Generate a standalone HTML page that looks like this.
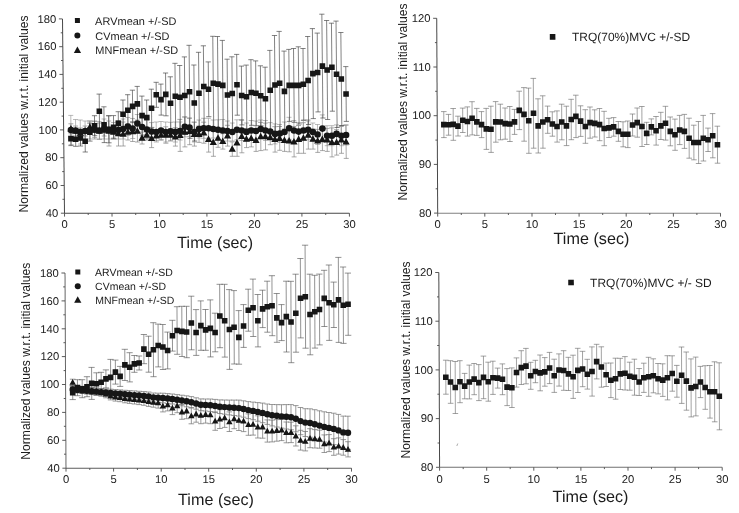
<!DOCTYPE html>
<html lang="en"><head><meta charset="utf-8"><title>Figure</title>
<style>html,body{margin:0;padding:0;background:#fff}svg{display:block}</style>
</head><body>
<svg width="739" height="513" viewBox="0 0 739 513" font-family='"Liberation Sans", sans-serif'>
<defs><filter id="soft" x="0" y="0" width="100%" height="100%" filterUnits="userSpaceOnUse" primitiveUnits="userSpaceOnUse"><feGaussianBlur stdDeviation="0.22"/></filter></defs>
<rect width="739" height="513" fill="#fff"/>
<g filter="url(#soft)">
<g transform="matrix(1 0 0.0103 1 -1.195 0)">
<path d="M70.8 123.8V133.8M68.3 123.8h5.0M68.3 133.8h5.0M75.5 126.0V136.0M73.0 126.0h5.0M73.0 136.0h5.0M80.2 128.0V138.0M77.7 128.0h5.0M77.7 138.0h5.0M85.0 126.0V136.0M82.5 126.0h5.0M82.5 136.0h5.0M89.8 121.0V133.0M87.3 121.0h5.0M87.3 133.0h5.0M94.5 121.0V139.0M92.0 121.0h5.0M92.0 139.0h5.0M99.2 123.0V139.0M96.7 123.0h5.0M96.7 139.0h5.0M104.0 124.0V136.0M101.5 124.0h5.0M101.5 136.0h5.0M108.7 116.0V146.0M106.2 116.0h5.0M106.2 146.0h5.0M113.4 126.0V138.0M110.9 126.0h5.0M110.9 138.0h5.0M118.2 121.0V146.0M115.7 121.0h5.0M115.7 146.0h5.0M122.9 122.0V146.0M120.4 122.0h5.0M120.4 146.0h5.0M127.7 124.0V140.0M125.2 124.0h5.0M125.2 140.0h5.0M132.4 121.5V141.5M129.9 121.5h5.0M129.9 141.5h5.0M137.2 120.0V142.0M134.7 120.0h5.0M134.7 142.0h5.0M141.8 132.0V144.0M139.3 132.0h5.0M139.3 144.0h5.0M146.6 130.0V140.0M144.1 130.0h5.0M144.1 140.0h5.0M151.3 129.2V147.6M148.8 129.2h5.0M148.8 147.6h5.0M156.1 130.7V140.7M153.6 130.7h5.0M153.6 140.7h5.0M160.9 129.8V140.2M158.4 129.8h5.0M158.4 140.2h5.0M165.6 126.8V143.2M163.1 126.8h5.0M163.1 143.2h5.0M170.3 129.0V141.0M167.8 129.0h5.0M167.8 141.0h5.0M175.1 127.7V146.1M172.6 127.7h5.0M172.6 146.1h5.0M179.8 119.4V151.4M177.3 119.4h5.0M177.3 151.4h5.0M184.6 117.1V146.9M182.1 117.1h5.0M182.1 146.9h5.0M189.4 117.9V144.7M186.9 117.9h5.0M186.9 144.7h5.0M194.1 122.3V146.1M191.6 122.3h5.0M191.6 146.1h5.0M198.8 126.0V142.4M196.3 126.0h5.0M196.3 142.4h5.0M203.6 122.2V143.2M201.1 122.2h5.0M201.1 143.2h5.0M208.3 126.7V152.1M205.8 126.7h5.0M205.8 152.1h5.0M213.0 128.5V156.3M210.5 128.5h5.0M210.5 156.3h5.0M217.8 128.7V147.3M215.3 128.7h5.0M215.3 147.3h5.0M222.5 133.7V149.1M220.0 133.7h5.0M220.0 149.1h5.0M227.3 125.3V146.1M224.8 125.3h5.0M224.8 146.1h5.0M231.9 141.9V156.3M229.4 141.9h5.0M229.4 156.3h5.0M236.7 129.5V156.3M234.2 129.5h5.0M234.2 156.3h5.0M241.5 119.6V152.8M239.0 119.6h5.0M239.0 152.8h5.0M246.2 130.4V147.6M243.7 130.4h5.0M243.7 147.6h5.0M251.0 129.9V146.9M248.5 129.9h5.0M248.5 146.9h5.0M255.7 129.0V151.4M253.2 129.0h5.0M253.2 151.4h5.0M260.5 122.4V150.6M258.0 122.4h5.0M258.0 150.6h5.0M265.2 123.1V149.9M262.7 123.1h5.0M262.7 149.9h5.0M270.0 129.7V144.7M267.5 129.7h5.0M267.5 144.7h5.0M274.7 126.7V152.1M272.2 126.7h5.0M272.2 152.1h5.0M279.4 126.5V150.3M276.9 126.5h5.0M276.9 150.3h5.0M284.2 129.0V151.4M281.7 129.0h5.0M281.7 151.4h5.0M288.9 130.0V151.8M286.4 130.0h5.0M286.4 151.8h5.0M293.7 126.5V156.9M291.2 126.5h5.0M291.2 156.9h5.0M298.4 125.5V153.3M295.9 125.5h5.0M295.9 153.3h5.0M303.2 122.7V153.3M300.7 122.7h5.0M300.7 153.3h5.0M308.0 120.9V149.1M305.5 120.9h5.0M305.5 149.1h5.0M312.7 128.9V149.1M310.2 128.9h5.0M310.2 149.1h5.0M317.4 129.4V152.4M314.9 129.4h5.0M314.9 152.4h5.0M322.1 128.2V150.6M319.6 128.2h5.0M319.6 150.6h5.0M326.9 128.4V151.4M324.4 128.4h5.0M324.4 151.4h5.0M331.6 127.9V156.9M329.1 127.9h5.0M329.1 156.9h5.0M336.3 129.7V155.1M333.8 129.7h5.0M333.8 155.1h5.0M341.1 126.5V153.3M338.6 126.5h5.0M338.6 153.3h5.0M345.8 125.0V158.4M343.3 125.0h5.0M343.3 158.4h5.0" stroke="#7c7c7c" stroke-width="0.65" fill="none"/>
<path d="M70.8 115.4V144.6M68.3 115.4h5.0M68.3 144.6h5.0M75.5 119.5V141.5M73.0 119.5h5.0M73.0 141.5h5.0M80.2 120.0V144.0M77.7 120.0h5.0M77.7 144.0h5.0M85.0 121.0V141.0M82.5 121.0h5.0M82.5 141.0h5.0M89.7 121.0V139.0M87.2 121.0h5.0M87.2 139.0h5.0M94.5 121.5V137.5M92.0 121.5h5.0M92.0 137.5h5.0M99.2 121.5V139.5M96.7 121.5h5.0M96.7 139.5h5.0M104.0 119.0V139.0M101.5 119.0h5.0M101.5 139.0h5.0M108.7 121.0V139.0M106.2 121.0h5.0M106.2 139.0h5.0M113.5 122.5V138.5M111.0 122.5h5.0M111.0 138.5h5.0M118.2 121.0V139.0M115.7 121.0h5.0M115.7 139.0h5.0M123.0 119.0V139.0M120.5 119.0h5.0M120.5 139.0h5.0M127.7 117.5V135.5M125.2 117.5h5.0M125.2 135.5h5.0M132.5 118.5V138.5M130.0 118.5h5.0M130.0 138.5h5.0M137.3 114.5V132.5M134.8 114.5h5.0M134.8 132.5h5.0M142.0 117.0V137.0M139.5 117.0h5.0M139.5 137.0h5.0M146.7 120.5V138.5M144.2 120.5h5.0M144.2 138.5h5.0M151.4 122.6V140.6M148.9 122.6h5.0M148.9 140.6h5.0M156.1 122.0V142.0M153.6 122.0h5.0M153.6 142.0h5.0M160.9 121.5V139.5M158.4 121.5h5.0M158.4 139.5h5.0M165.6 122.0V142.0M163.1 122.0h5.0M163.1 142.0h5.0M170.4 122.3V140.3M167.9 122.3h5.0M167.9 140.3h5.0M175.1 122.0V142.0M172.6 122.0h5.0M172.6 142.0h5.0M179.9 122.0V140.0M177.4 122.0h5.0M177.4 140.0h5.0M184.7 116.8V136.8M182.2 116.8h5.0M182.2 136.8h5.0M189.4 118.5V136.5M186.9 118.5h5.0M186.9 136.5h5.0M194.1 122.0V142.0M191.6 122.0h5.0M191.6 142.0h5.0M198.9 120.0V138.0M196.4 120.0h5.0M196.4 138.0h5.0M203.6 118.3V138.3M201.1 118.3h5.0M201.1 138.3h5.0M208.4 118.3V138.3M205.9 118.3h5.0M205.9 138.3h5.0M213.1 120.0V138.0M210.6 120.0h5.0M210.6 138.0h5.0M217.9 119.8V139.8M215.4 119.8h5.0M215.4 139.8h5.0M222.6 119.5V141.5M220.1 119.5h5.0M220.1 141.5h5.0M227.3 121.0V141.0M224.8 121.0h5.0M224.8 141.0h5.0M232.1 123.0V141.0M229.6 123.0h5.0M229.6 141.0h5.0M236.8 119.8V139.8M234.3 119.8h5.0M234.3 139.8h5.0M241.6 120.5V140.5M239.1 120.5h5.0M239.1 140.5h5.0M246.3 123.0V141.0M243.8 123.0h5.0M243.8 141.0h5.0M251.1 120.5V140.5M248.6 120.5h5.0M248.6 140.5h5.0M255.8 121.0V141.0M253.3 121.0h5.0M253.3 141.0h5.0M260.6 120.0V138.0M258.1 120.0h5.0M258.1 138.0h5.0M265.3 120.5V140.5M262.8 120.5h5.0M262.8 140.5h5.0M270.0 122.6V140.6M267.5 122.6h5.0M267.5 140.6h5.0M274.8 123.9V143.9M272.3 123.9h5.0M272.3 143.9h5.0M279.5 124.5V142.5M277.0 124.5h5.0M277.0 142.5h5.0M284.3 122.0V142.0M281.8 122.0h5.0M281.8 142.0h5.0M289.0 117.3V139.3M286.5 117.3h5.0M286.5 139.3h5.0M293.8 120.5V140.5M291.3 120.5h5.0M291.3 140.5h5.0M298.5 122.6V140.6M296.0 122.6h5.0M296.0 140.6h5.0M303.3 120.5V140.5M300.8 120.5h5.0M300.8 140.5h5.0M308.0 119.8V139.8M305.5 119.8h5.0M305.5 139.8h5.0M312.7 123.0V141.0M310.2 123.0h5.0M310.2 141.0h5.0M317.4 124.5V144.5M314.9 124.5h5.0M314.9 144.5h5.0M322.3 114.9V142.3M319.8 114.9h5.0M319.8 142.3h5.0M326.9 125.7V145.7M324.4 125.7h5.0M324.4 145.7h5.0M331.7 125.7V145.7M329.2 125.7h5.0M329.2 145.7h5.0M336.4 124.9V142.9M333.9 124.9h5.0M333.9 142.9h5.0M341.2 125.7V145.7M338.7 125.7h5.0M338.7 145.7h5.0M345.9 125.0V145.0M343.4 125.0h5.0M343.4 145.0h5.0" stroke="#8c8c8c" stroke-width="0.6" fill="none"/>
<path d="M70.7 131.6V145.6M68.1 131.6h5.2M68.1 145.6h5.2M75.4 132.3V146.3M72.8 132.3h5.2M72.8 146.3h5.2M80.2 130.0V146.0M77.6 130.0h5.2M77.6 146.0h5.2M84.9 130.6V152.0M82.3 130.6h5.2M82.3 152.0h5.2M89.7 123.1V141.1M87.1 123.1h5.2M87.1 141.1h5.2M94.5 115.7V135.7M91.9 115.7h5.2M91.9 135.7h5.2M99.4 94.1V128.5M96.8 94.1h5.2M96.8 128.5h5.2M104.0 106.8V142.6M101.4 106.8h5.2M101.4 142.6h5.2M108.7 115.6V142.8M106.1 115.6h5.2M106.1 142.8h5.2M113.5 115.6V139.0M110.9 115.6h5.2M110.9 139.0h5.2M118.3 111.7V135.1M115.7 111.7h5.2M115.7 135.1h5.2M123.1 100.0V128.4M120.5 100.0h5.2M120.5 128.4h5.2M127.9 94.7V125.9M125.3 94.7h5.2M125.3 125.9h5.2M132.7 90.2V122.6M130.1 90.2h5.2M130.1 122.6h5.2M137.5 86.4V121.4M134.9 86.4h5.2M134.9 121.4h5.2M142.1 96.1V135.1M139.5 96.1h5.2M139.5 135.1h5.2M146.8 100.0V135.0M144.2 100.0h5.2M144.2 135.0h5.2M151.6 89.2V127.4M149.0 89.2h5.2M149.0 127.4h5.2M156.5 82.3V107.3M153.9 82.3h5.2M153.9 107.3h5.2M161.2 84.1V115.1M158.6 84.1h5.2M158.6 115.1h5.2M166.0 73.0V115.8M163.4 73.0h5.2M163.4 115.8h5.2M170.7 76.8V129.6M168.1 76.8h5.2M168.1 129.6h5.2M175.5 63.3V129.3M172.9 63.3h5.2M172.9 129.3h5.2M180.2 65.5V128.9M177.6 65.5h5.2M177.6 128.9h5.2M185.0 56.9V134.1M182.4 56.9h5.2M182.4 134.1h5.2M189.8 45.3V138.3M187.2 45.3h5.2M187.2 138.3h5.2M194.4 65.0V141.0M191.8 65.0h5.2M191.8 141.0h5.2M199.2 52.3V134.3M196.6 52.3h5.2M196.6 134.3h5.2M204.1 45.8V127.2M201.5 45.8h5.2M201.5 127.2h5.2M208.8 61.9V116.7M206.2 61.9h5.2M206.2 116.7h5.2M213.6 36.3V130.3M211.0 36.3h5.2M211.0 130.3h5.2M218.3 36.5V131.7M215.7 36.5h5.2M215.7 131.7h5.2M223.1 40.4V130.4M220.5 40.4h5.2M220.5 130.4h5.2M227.7 59.2V130.8M225.1 59.2h5.2M225.1 130.8h5.2M232.5 56.8V130.2M229.9 56.8h5.2M229.9 130.2h5.2M237.3 54.4V115.2M234.7 54.4h5.2M234.7 115.2h5.2M241.9 66.1V124.9M239.3 66.1h5.2M239.3 124.9h5.2M246.7 65.1V128.5M244.1 65.1h5.2M244.1 128.5h5.2M251.5 59.7V125.3M248.9 59.7h5.2M248.9 125.3h5.2M256.2 60.9V125.7M253.6 60.9h5.2M253.6 125.7h5.2M260.9 65.8V125.8M258.3 65.8h5.2M258.3 125.8h5.2M265.6 67.2V130.2M263.0 67.2h5.2M263.0 130.2h5.2M270.5 50.4V130.2M267.9 50.4h5.2M267.9 130.2h5.2M275.3 35.5V134.5M272.7 35.5h5.2M272.7 134.5h5.2M280.0 31.4V135.2M277.4 31.4h5.2M277.4 135.2h5.2M284.7 51.1V131.7M282.1 51.1h5.2M282.1 131.7h5.2M289.5 49.4V121.4M286.9 49.4h5.2M286.9 121.4h5.2M294.2 48.5V122.3M291.6 48.5h5.2M291.6 122.3h5.2M299.0 46.8V124.0M296.4 46.8h5.2M296.4 124.0h5.2M303.7 48.5V120.1M301.1 48.5h5.2M301.1 120.1h5.2M308.5 36.5V124.5M305.9 36.5h5.2M305.9 124.5h5.2M313.3 28.6V118.6M310.7 28.6h5.2M310.7 118.6h5.2M318.1 33.1V111.9M315.5 33.1h5.2M315.5 111.9h5.2M322.9 14.2V118.0M320.3 14.2h5.2M320.3 118.0h5.2M327.6 20.5V119.5M325.0 20.5h5.2M325.0 119.5h5.2M332.4 23.2V111.2M329.8 23.2h5.2M329.8 111.2h5.2M337.0 21.1V127.5M334.4 21.1h5.2M334.4 127.5h5.2M341.7 32.5V125.5M339.1 32.5h5.2M339.1 125.5h5.2M346.3 66.6V121.4M343.7 66.6h5.2M343.7 121.4h5.2" stroke="#404040" stroke-width="0.65" fill="none"/>
<path d="M63.5 19V213.2" stroke="#484848" stroke-width="1"/>
<path d="M63.5 213.2H348.4" stroke="#484848" stroke-width="1"/>
<text x="57.3" y="22.7" text-anchor="end" font-size="11.3" fill="#1c1c1c">180</text>
<text x="57.3" y="50.5" text-anchor="end" font-size="11.3" fill="#1c1c1c">160</text>
<text x="57.3" y="78.2" text-anchor="end" font-size="11.3" fill="#1c1c1c">140</text>
<text x="57.3" y="106.0" text-anchor="end" font-size="11.3" fill="#1c1c1c">120</text>
<text x="57.3" y="133.7" text-anchor="end" font-size="11.3" fill="#1c1c1c">100</text>
<text x="57.3" y="161.5" text-anchor="end" font-size="11.3" fill="#1c1c1c">80</text>
<text x="57.3" y="189.3" text-anchor="end" font-size="11.3" fill="#1c1c1c">60</text>
<text x="57.3" y="217.0" text-anchor="end" font-size="11.3" fill="#1c1c1c">40</text>
<text x="63.5" y="228" text-anchor="middle" font-size="11.3" fill="#1c1c1c">0</text>
<text x="111.0" y="228" text-anchor="middle" font-size="11.3" fill="#1c1c1c">5</text>
<text x="158.5" y="228" text-anchor="middle" font-size="11.3" fill="#1c1c1c">10</text>
<text x="205.9" y="228" text-anchor="middle" font-size="11.3" fill="#1c1c1c">15</text>
<text x="253.4" y="228" text-anchor="middle" font-size="11.3" fill="#1c1c1c">20</text>
<text x="300.9" y="228" text-anchor="middle" font-size="11.3" fill="#1c1c1c">25</text>
<text x="348.4" y="228" text-anchor="middle" font-size="11.3" fill="#1c1c1c">30</text>
<path d="M59.9 18.9H63.5M61.6 32.8H63.5M59.9 46.7H63.5M61.6 60.5H63.5M59.9 74.4H63.5M61.6 88.3H63.5M59.9 102.2H63.5M61.6 116.1H63.5M59.9 129.9H63.5M61.6 143.8H63.5M59.9 157.7H63.5M61.6 171.6H63.5M59.9 185.5H63.5M61.6 199.3H63.5M59.9 213.2H63.5M63.5 213.2v3.4M87.2 213.2v1.8M111.0 213.2v3.4M134.7 213.2v1.8M158.5 213.2v3.4M182.2 213.2v1.8M205.9 213.2v3.4M229.7 213.2v1.8M253.4 213.2v3.4M277.2 213.2v1.8M300.9 213.2v3.4M324.7 213.2v1.8M348.4 213.2v3.4" stroke="#484848" stroke-width="0.9" fill="none"/>
<text x="175.9" y="248" font-size="16.2" fill="#1c1c1c">Time (sec)</text>
<path d="M70.8 125.0l3.6 6.5h-7.2zM75.5 127.2l3.6 6.5h-7.2zM80.2 129.2l3.6 6.5h-7.2zM85.0 127.2l3.6 6.5h-7.2zM89.8 123.2l3.6 6.5h-7.2zM94.5 126.2l3.6 6.5h-7.2zM99.2 127.2l3.6 6.5h-7.2zM104.0 126.2l3.6 6.5h-7.2zM108.7 127.2l3.6 6.5h-7.2zM113.4 128.2l3.6 6.5h-7.2zM118.2 129.7l3.6 6.5h-7.2zM122.9 130.2l3.6 6.5h-7.2zM127.7 128.2l3.6 6.5h-7.2zM132.4 127.7l3.6 6.5h-7.2zM137.2 127.2l3.6 6.5h-7.2zM141.8 134.2l3.6 6.5h-7.2zM146.6 131.2l3.6 6.5h-7.2zM151.3 134.6l3.6 6.5h-7.2zM156.1 131.9l3.6 6.5h-7.2zM160.9 131.2l3.6 6.5h-7.2zM165.6 131.2l3.6 6.5h-7.2zM170.3 131.2l3.6 6.5h-7.2zM175.1 133.1l3.6 6.5h-7.2zM179.8 131.6l3.6 6.5h-7.2zM184.6 128.2l3.6 6.5h-7.2zM189.4 127.5l3.6 6.5h-7.2zM194.1 130.4l3.6 6.5h-7.2zM198.8 130.4l3.6 6.5h-7.2zM203.6 128.9l3.6 6.5h-7.2zM208.3 135.6l3.6 6.5h-7.2zM213.0 138.6l3.6 6.5h-7.2zM217.8 134.2l3.6 6.5h-7.2zM222.5 137.6l3.6 6.5h-7.2zM227.3 131.9l3.6 6.5h-7.2zM231.9 145.3l3.6 6.5h-7.2zM236.7 139.1l3.6 6.5h-7.2zM241.5 132.4l3.6 6.5h-7.2zM246.2 135.2l3.6 6.5h-7.2zM251.0 134.6l3.6 6.5h-7.2zM255.7 136.4l3.6 6.5h-7.2zM260.5 132.7l3.6 6.5h-7.2zM265.2 132.7l3.6 6.5h-7.2zM270.0 133.4l3.6 6.5h-7.2zM274.7 135.6l3.6 6.5h-7.2zM279.4 134.6l3.6 6.5h-7.2zM284.2 136.4l3.6 6.5h-7.2zM288.9 137.1l3.6 6.5h-7.2zM293.7 137.9l3.6 6.5h-7.2zM298.4 135.6l3.6 6.5h-7.2zM303.2 134.2l3.6 6.5h-7.2zM308.0 131.2l3.6 6.5h-7.2zM312.7 135.2l3.6 6.5h-7.2zM317.4 137.1l3.6 6.5h-7.2zM322.1 135.6l3.6 6.5h-7.2zM326.9 136.1l3.6 6.5h-7.2zM331.6 138.6l3.6 6.5h-7.2zM336.3 138.6l3.6 6.5h-7.2zM341.1 136.1l3.6 6.5h-7.2zM345.8 137.9l3.6 6.5h-7.2z" fill="#151515"/>
<circle cx="70.8" cy="130.0" r="3.3" fill="#151515"/>
<circle cx="75.5" cy="130.5" r="3.3" fill="#151515"/>
<circle cx="80.2" cy="132.0" r="3.3" fill="#151515"/>
<circle cx="85.0" cy="131.0" r="3.3" fill="#151515"/>
<circle cx="89.7" cy="130.0" r="3.3" fill="#151515"/>
<circle cx="94.5" cy="129.5" r="3.3" fill="#151515"/>
<circle cx="99.2" cy="130.5" r="3.3" fill="#151515"/>
<circle cx="104.0" cy="129.0" r="3.3" fill="#151515"/>
<circle cx="108.7" cy="130.0" r="3.3" fill="#151515"/>
<circle cx="113.5" cy="130.5" r="3.3" fill="#151515"/>
<circle cx="118.2" cy="130.0" r="3.3" fill="#151515"/>
<circle cx="123.0" cy="129.0" r="3.3" fill="#151515"/>
<circle cx="127.7" cy="126.5" r="3.3" fill="#151515"/>
<circle cx="132.5" cy="128.5" r="3.3" fill="#151515"/>
<circle cx="137.3" cy="123.5" r="3.3" fill="#151515"/>
<circle cx="142.0" cy="127.0" r="3.3" fill="#151515"/>
<circle cx="146.7" cy="129.5" r="3.3" fill="#151515"/>
<circle cx="151.4" cy="131.6" r="3.3" fill="#151515"/>
<circle cx="156.1" cy="132.0" r="3.3" fill="#151515"/>
<circle cx="160.9" cy="130.5" r="3.3" fill="#151515"/>
<circle cx="165.6" cy="132.0" r="3.3" fill="#151515"/>
<circle cx="170.4" cy="131.3" r="3.3" fill="#151515"/>
<circle cx="175.1" cy="132.0" r="3.3" fill="#151515"/>
<circle cx="179.9" cy="131.0" r="3.3" fill="#151515"/>
<circle cx="184.7" cy="126.8" r="3.3" fill="#151515"/>
<circle cx="189.4" cy="127.5" r="3.3" fill="#151515"/>
<circle cx="194.1" cy="132.0" r="3.3" fill="#151515"/>
<circle cx="198.9" cy="129.0" r="3.3" fill="#151515"/>
<circle cx="203.6" cy="128.3" r="3.3" fill="#151515"/>
<circle cx="208.4" cy="128.3" r="3.3" fill="#151515"/>
<circle cx="213.1" cy="129.0" r="3.3" fill="#151515"/>
<circle cx="217.9" cy="129.8" r="3.3" fill="#151515"/>
<circle cx="222.6" cy="130.5" r="3.3" fill="#151515"/>
<circle cx="227.3" cy="131.0" r="3.3" fill="#151515"/>
<circle cx="232.1" cy="132.0" r="3.3" fill="#151515"/>
<circle cx="236.8" cy="129.8" r="3.3" fill="#151515"/>
<circle cx="241.6" cy="130.5" r="3.3" fill="#151515"/>
<circle cx="246.3" cy="132.0" r="3.3" fill="#151515"/>
<circle cx="251.1" cy="130.5" r="3.3" fill="#151515"/>
<circle cx="255.8" cy="131.0" r="3.3" fill="#151515"/>
<circle cx="260.6" cy="129.0" r="3.3" fill="#151515"/>
<circle cx="265.3" cy="130.5" r="3.3" fill="#151515"/>
<circle cx="270.0" cy="131.6" r="3.3" fill="#151515"/>
<circle cx="274.8" cy="133.9" r="3.3" fill="#151515"/>
<circle cx="279.5" cy="133.5" r="3.3" fill="#151515"/>
<circle cx="284.3" cy="132.0" r="3.3" fill="#151515"/>
<circle cx="289.0" cy="128.3" r="3.3" fill="#151515"/>
<circle cx="293.8" cy="130.5" r="3.3" fill="#151515"/>
<circle cx="298.5" cy="131.6" r="3.3" fill="#151515"/>
<circle cx="303.3" cy="130.5" r="3.3" fill="#151515"/>
<circle cx="308.0" cy="129.8" r="3.3" fill="#151515"/>
<circle cx="312.7" cy="132.0" r="3.3" fill="#151515"/>
<circle cx="317.4" cy="134.5" r="3.3" fill="#151515"/>
<circle cx="322.3" cy="128.6" r="3.3" fill="#151515"/>
<circle cx="326.9" cy="135.7" r="3.3" fill="#151515"/>
<circle cx="331.7" cy="135.7" r="3.3" fill="#151515"/>
<circle cx="336.4" cy="133.9" r="3.3" fill="#151515"/>
<circle cx="341.2" cy="135.7" r="3.3" fill="#151515"/>
<circle cx="345.9" cy="135.0" r="3.3" fill="#151515"/>
<path d="M67.9 135.8h5.6v5.6h-5.6zM72.6 136.5h5.6v5.6h-5.6zM77.4 135.2h5.6v5.6h-5.6zM82.1 138.5h5.6v5.6h-5.6zM86.9 129.3h5.6v5.6h-5.6zM91.7 122.9h5.6v5.6h-5.6zM96.6 108.5h5.6v5.6h-5.6zM101.2 121.9h5.6v5.6h-5.6zM105.9 126.4h5.6v5.6h-5.6zM110.7 124.5h5.6v5.6h-5.6zM115.5 120.6h5.6v5.6h-5.6zM120.3 111.4h5.6v5.6h-5.6zM125.1 107.5h5.6v5.6h-5.6zM129.9 103.6h5.6v5.6h-5.6zM134.7 101.1h5.6v5.6h-5.6zM139.3 112.8h5.6v5.6h-5.6zM144.0 114.7h5.6v5.6h-5.6zM148.8 105.5h5.6v5.6h-5.6zM153.7 92.0h5.6v5.6h-5.6zM158.4 96.8h5.6v5.6h-5.6zM163.2 91.6h5.6v5.6h-5.6zM167.9 100.4h5.6v5.6h-5.6zM172.7 93.5h5.6v5.6h-5.6zM177.4 94.4h5.6v5.6h-5.6zM182.2 92.7h5.6v5.6h-5.6zM187.0 89.0h5.6v5.6h-5.6zM191.6 100.2h5.6v5.6h-5.6zM196.4 90.5h5.6v5.6h-5.6zM201.3 83.7h5.6v5.6h-5.6zM206.0 86.5h5.6v5.6h-5.6zM210.8 80.5h5.6v5.6h-5.6zM215.5 81.3h5.6v5.6h-5.6zM220.3 82.6h5.6v5.6h-5.6zM224.9 92.2h5.6v5.6h-5.6zM229.7 90.7h5.6v5.6h-5.6zM234.5 82.0h5.6v5.6h-5.6zM239.1 92.7h5.6v5.6h-5.6zM243.9 94.0h5.6v5.6h-5.6zM248.7 89.7h5.6v5.6h-5.6zM253.4 90.5h5.6v5.6h-5.6zM258.1 93.0h5.6v5.6h-5.6zM262.8 95.9h5.6v5.6h-5.6zM267.7 87.5h5.6v5.6h-5.6zM272.5 82.2h5.6v5.6h-5.6zM277.2 80.5h5.6v5.6h-5.6zM281.9 88.6h5.6v5.6h-5.6zM286.7 82.6h5.6v5.6h-5.6zM291.4 82.6h5.6v5.6h-5.6zM296.2 82.6h5.6v5.6h-5.6zM300.9 81.5h5.6v5.6h-5.6zM305.7 77.7h5.6v5.6h-5.6zM310.5 70.8h5.6v5.6h-5.6zM315.3 69.7h5.6v5.6h-5.6zM320.1 63.3h5.6v5.6h-5.6zM324.8 67.2h5.6v5.6h-5.6zM329.6 64.4h5.6v5.6h-5.6zM334.2 71.5h5.6v5.6h-5.6zM338.9 76.2h5.6v5.6h-5.6zM343.5 91.2h5.6v5.6h-5.6z" fill="#151515"/>
<path d="M75.9 18.1h5v5h-5z" fill="#151515"/>
<circle cx="78.2" cy="35.6" r="3" fill="#151515"/>
<path d="M78.1 46.4l3.6 6.5h-7.2z" fill="#151515"/>
<text x="96" y="24.6" font-size="11" fill="#1c1c1c">ARVmean +/-SD</text>
<text x="96" y="39.6" font-size="11" fill="#1c1c1c">CVmean +/-SD</text>
<text x="96" y="54.2" font-size="11" fill="#1c1c1c">MNFmean +/-SD</text>
</g>
<g transform="matrix(1 0 0.005 1 -0.580 0)">
<path d="M443.8 111.6V137.6M441.0 111.6h5.6M441.0 137.6h5.6M448.5 114.4V135.2M445.7 114.4h5.6M445.7 135.2h5.6M453.2 108.5V140.3M450.4 108.5h5.6M450.4 140.3h5.6M457.9 116.2V136.0M455.1 116.2h5.6M455.1 136.0h5.6M462.7 108.1V132.5M459.9 108.1h5.6M459.9 132.5h5.6M467.4 106.9V136.1M464.6 106.9h5.6M464.6 136.1h5.6M472.1 101.7V134.9M469.3 101.7h5.6M469.3 134.9h5.6M476.8 108.4V135.4M474.0 108.4h5.6M474.0 135.4h5.6M481.5 111.6V137.6M478.7 111.6h5.6M478.7 137.6h5.6M486.2 108.4V149.4M483.4 108.4h5.6M483.4 149.4h5.6M490.9 106.2V152.4M488.1 106.2h5.6M488.1 152.4h5.6M495.7 101.6V142.2M492.9 101.6h5.6M492.9 142.2h5.6M500.4 104.2V139.8M497.6 104.2h5.6M497.6 139.8h5.6M505.1 108.0V139.2M502.3 108.0h5.6M502.3 139.2h5.6M509.8 106.5V141.5M507.0 106.5h5.6M507.0 141.5h5.6M514.5 109.4V134.4M511.7 109.4h5.6M511.7 134.4h5.6M519.3 91.2V129.6M516.5 91.2h5.6M516.5 129.6h5.6M524.0 87.6V141.2M521.2 87.6h5.6M521.2 141.2h5.6M528.7 88.1V153.3M525.9 88.1h5.6M525.9 153.3h5.6M533.5 78.4V148.2M530.7 78.4h5.6M530.7 148.2h5.6M538.1 98.8V153.0M535.3 98.8h5.6M535.3 153.0h5.6M542.8 95.8V148.2M540.0 95.8h5.6M540.0 148.2h5.6M547.6 106.1V133.3M544.8 106.1h5.6M544.8 133.3h5.6M552.3 111.8V136.2M549.5 111.8h5.6M549.5 136.2h5.6M557.0 110.9V142.1M554.2 110.9h5.6M554.2 142.1h5.6M561.7 104.2V139.8M558.9 104.2h5.6M558.9 139.8h5.6M566.4 106.2V145.6M563.6 106.2h5.6M563.6 145.6h5.6M571.2 99.3V139.7M568.4 99.3h5.6M568.4 139.7h5.6M575.9 95.2V137.6M573.1 95.2h5.6M573.1 137.6h5.6M580.6 105.8V136.4M577.8 105.8h5.6M577.8 136.4h5.6M585.3 109.7V143.3M582.5 109.7h5.6M582.5 143.3h5.6M590.0 107.0V138.2M587.2 107.0h5.6M587.2 138.2h5.6M594.7 109.8V137.0M591.9 109.8h5.6M591.9 137.0h5.6M599.5 108.5V140.7M596.7 108.5h5.6M596.7 140.7h5.6M604.1 111.3V145.7M601.3 111.3h5.6M601.3 145.7h5.6M608.9 118.3V137.5M606.1 118.3h5.6M606.1 137.5h5.6M613.6 117.6V136.2M610.8 117.6h5.6M610.8 136.2h5.6M618.3 121.5V141.3M615.5 121.5h5.6M615.5 141.3h5.6M623.0 121.8V146.8M620.2 121.8h5.6M620.2 146.8h5.6M627.7 121.0V147.6M624.9 121.0h5.6M624.9 147.6h5.6M632.5 114.0V136.0M629.7 114.0h5.6M629.7 136.0h5.6M637.2 108.0V137.2M634.4 108.0h5.6M634.4 137.2h5.6M641.9 106.5V146.5M639.1 106.5h5.6M639.1 146.5h5.6M646.6 122.3V144.5M643.8 122.3h5.6M643.8 144.5h5.6M651.3 118.9V134.9M648.5 118.9h5.6M648.5 134.9h5.6M656.0 116.5V145.1M653.2 116.5h5.6M653.2 145.1h5.6M660.8 112.3V139.5M658.0 112.3h5.6M658.0 139.5h5.6M665.5 106.3V140.1M662.7 106.3h5.6M662.7 140.1h5.6M670.2 117.0V145.8M667.4 117.0h5.6M667.4 145.8h5.6M674.9 119.1V150.3M672.1 119.1h5.6M672.1 150.3h5.6M679.6 115.4V144.6M676.8 115.4h5.6M676.8 144.6h5.6M684.3 114.4V148.4M681.5 114.4h5.6M681.5 148.4h5.6M689.0 118.2V158.2M686.2 118.2h5.6M686.2 158.2h5.6M693.7 125.2V159.8M690.9 125.2h5.6M690.9 159.8h5.6M698.4 121.5V163.5M695.6 121.5h5.6M695.6 163.5h5.6M703.2 115.4V161.0M700.4 115.4h5.6M700.4 161.0h5.6M707.9 128.1V151.5M705.1 128.1h5.6M705.1 151.5h5.6M712.6 113.6V157.8M709.8 113.6h5.6M709.8 157.8h5.6M717.3 126.2V163.2M714.5 126.2h5.6M714.5 163.2h5.6" stroke="#686868" stroke-width="0.62" fill="none"/>
<path d="M437.2 18.3V213.2" stroke="#484848" stroke-width="1"/>
<path d="M437.2 213.2H720" stroke="#808080" stroke-width="1"/>
<text x="431.0" y="22.1" text-anchor="end" font-size="11.3" fill="#1c1c1c">120</text>
<text x="431.0" y="70.8" text-anchor="end" font-size="11.3" fill="#1c1c1c">110</text>
<text x="431.0" y="119.5" text-anchor="end" font-size="11.3" fill="#1c1c1c">100</text>
<text x="431.0" y="168.2" text-anchor="end" font-size="11.3" fill="#1c1c1c">90</text>
<text x="431.0" y="216.9" text-anchor="end" font-size="11.3" fill="#1c1c1c">80</text>
<text x="437.2" y="228.3" text-anchor="middle" font-size="11.3" fill="#1c1c1c">0</text>
<text x="484.3" y="228.3" text-anchor="middle" font-size="11.3" fill="#1c1c1c">5</text>
<text x="531.5" y="228.3" text-anchor="middle" font-size="11.3" fill="#1c1c1c">10</text>
<text x="578.6" y="228.3" text-anchor="middle" font-size="11.3" fill="#1c1c1c">15</text>
<text x="625.7" y="228.3" text-anchor="middle" font-size="11.3" fill="#1c1c1c">20</text>
<text x="672.9" y="228.3" text-anchor="middle" font-size="11.3" fill="#1c1c1c">25</text>
<text x="720.0" y="228.3" text-anchor="middle" font-size="11.3" fill="#1c1c1c">30</text>
<path d="M433.6 18.3H437.2M435.3 42.6H437.2M433.6 67.0H437.2M435.3 91.3H437.2M433.6 115.7H437.2M435.3 140.1H437.2M433.6 164.4H437.2M435.3 188.8H437.2M433.6 213.1H437.2M437.2 213.2v3.4M460.8 213.2v1.8M484.3 213.2v3.4M507.9 213.2v1.8M531.5 213.2v3.4M555.0 213.2v1.8M578.6 213.2v3.4M602.2 213.2v1.8M625.7 213.2v3.4M649.3 213.2v1.8M672.9 213.2v3.4M696.4 213.2v1.8M720.0 213.2v3.4" stroke="#484848" stroke-width="0.9" fill="none"/>
<text x="552.9" y="243.6" font-size="16.2" fill="#1c1c1c">Time (sec)</text>
<path d="M441.0 121.8h5.6v5.6h-5.6zM445.7 122.0h5.6v5.6h-5.6zM450.4 121.6h5.6v5.6h-5.6zM455.1 123.3h5.6v5.6h-5.6zM459.9 117.5h5.6v5.6h-5.6zM464.6 118.7h5.6v5.6h-5.6zM469.3 115.5h5.6v5.6h-5.6zM474.0 119.1h5.6v5.6h-5.6zM478.7 121.8h5.6v5.6h-5.6zM483.4 126.1h5.6v5.6h-5.6zM488.1 126.5h5.6v5.6h-5.6zM492.9 119.1h5.6v5.6h-5.6zM497.6 119.2h5.6v5.6h-5.6zM502.3 120.8h5.6v5.6h-5.6zM507.0 121.2h5.6v5.6h-5.6zM511.7 119.1h5.6v5.6h-5.6zM516.5 107.6h5.6v5.6h-5.6zM521.2 111.6h5.6v5.6h-5.6zM525.9 117.9h5.6v5.6h-5.6zM530.7 110.5h5.6v5.6h-5.6zM535.3 123.1h5.6v5.6h-5.6zM540.0 119.2h5.6v5.6h-5.6zM544.8 116.9h5.6v5.6h-5.6zM549.5 121.2h5.6v5.6h-5.6zM554.2 123.7h5.6v5.6h-5.6zM558.9 119.2h5.6v5.6h-5.6zM563.6 123.1h5.6v5.6h-5.6zM568.4 116.7h5.6v5.6h-5.6zM573.1 113.6h5.6v5.6h-5.6zM577.8 118.3h5.6v5.6h-5.6zM582.5 123.7h5.6v5.6h-5.6zM587.2 119.8h5.6v5.6h-5.6zM591.9 120.6h5.6v5.6h-5.6zM596.7 121.8h5.6v5.6h-5.6zM601.3 125.7h5.6v5.6h-5.6zM606.1 125.1h5.6v5.6h-5.6zM610.8 124.1h5.6v5.6h-5.6zM615.5 128.6h5.6v5.6h-5.6zM620.2 131.5h5.6v5.6h-5.6zM624.9 131.5h5.6v5.6h-5.6zM629.7 122.2h5.6v5.6h-5.6zM634.4 119.8h5.6v5.6h-5.6zM639.1 123.7h5.6v5.6h-5.6zM643.8 130.6h5.6v5.6h-5.6zM648.5 124.1h5.6v5.6h-5.6zM653.2 128.0h5.6v5.6h-5.6zM658.0 123.1h5.6v5.6h-5.6zM662.7 120.4h5.6v5.6h-5.6zM667.4 128.6h5.6v5.6h-5.6zM672.1 131.9h5.6v5.6h-5.6zM676.8 127.2h5.6v5.6h-5.6zM681.5 128.6h5.6v5.6h-5.6zM686.2 135.4h5.6v5.6h-5.6zM690.9 139.7h5.6v5.6h-5.6zM695.6 139.7h5.6v5.6h-5.6zM700.4 135.4h5.6v5.6h-5.6zM705.1 137.0h5.6v5.6h-5.6zM709.8 132.9h5.6v5.6h-5.6zM714.5 141.9h5.6v5.6h-5.6z" fill="#151515"/>
<path d="M550.2 34.1h5.6v5.6h-5.6z" fill="#151515"/>
<text x="572.3" y="41.1" font-size="12" fill="#1c1c1c">TRQ(70%)MVC +/-SD</text>
</g>
<g transform="matrix(1 0 0.005 1 -1.850 0)">
<path d="M72.6 379.2V385.2M69.8 379.2h5.6M69.8 385.2h5.6M77.4 384.9V391.1M74.6 384.9h5.6M74.6 391.1h5.6M82.1 386.3V392.7M79.3 386.3h5.6M79.3 392.7h5.6M86.8 386.6V393.4M84.0 386.6h5.6M84.0 393.4h5.6M91.6 387.5V394.5M88.8 387.5h5.6M88.8 394.5h5.6M96.3 387.9V395.1M93.5 387.9h5.6M93.5 395.1h5.6M101.1 388.8V396.2M98.3 388.8h5.6M98.3 396.2h5.6M105.8 390.2V397.8M103.0 390.2h5.6M103.0 397.8h5.6M110.5 392.1V399.9M107.7 392.1h5.6M107.7 399.9h5.6M115.3 392.9V401.1M112.5 392.9h5.6M112.5 401.1h5.6M120.0 393.3V401.7M117.2 393.3h5.6M117.2 401.7h5.6M124.8 394.2V402.8M122.0 394.2h5.6M122.0 402.8h5.6M129.5 394.6V403.4M126.7 394.6h5.6M126.7 403.4h5.6M134.3 395.0V404.0M131.5 395.0h5.6M131.5 404.0h5.6M139.0 395.4V404.6M136.2 395.4h5.6M136.2 404.6h5.6M143.8 395.7V405.3M141.0 395.7h5.6M141.0 405.3h5.6M148.5 396.6V406.4M145.7 396.6h5.6M145.7 406.4h5.6M153.2 397.2V407.2M150.4 397.2h5.6M150.4 407.2h5.6M158.0 397.3V408.1M155.2 397.3h5.6M155.2 408.1h5.6M162.7 400.3V411.9M159.9 400.3h5.6M159.9 411.9h5.6M167.5 398.5V410.9M164.7 398.5h5.6M164.7 410.9h5.6M172.2 401.4V414.6M169.4 401.4h5.6M169.4 414.6h5.6M177.0 398.7V412.7M174.2 398.7h5.6M174.2 412.7h5.6M181.7 404.5V419.3M178.9 404.5h5.6M178.9 419.3h5.6M186.4 403.1V418.7M183.6 403.1h5.6M183.6 418.7h5.6M191.1 407.8V423.8M188.3 407.8h5.6M188.3 423.8h5.6M195.9 405.6V422.2M193.1 405.6h5.6M193.1 422.2h5.6M200.6 406.7V423.7M197.8 406.7h5.6M197.8 423.7h5.6M205.4 405.7V423.1M202.6 405.7h5.6M202.6 423.1h5.6M210.1 405.9V423.7M207.3 405.9h5.6M207.3 423.7h5.6M214.9 411.9V430.3M212.1 411.9h5.6M212.1 430.3h5.6M219.6 409.7V428.5M216.8 409.7h5.6M216.8 428.5h5.6M224.4 408.2V427.4M221.6 408.2h5.6M221.6 427.4h5.6M229.1 411.9V431.5M226.3 411.9h5.6M226.3 431.5h5.6M233.9 408.7V428.7M231.1 408.7h5.6M231.1 428.7h5.6M238.6 410.1V430.5M235.8 410.1h5.6M235.8 430.5h5.6M243.3 410.6V431.6M240.5 410.6h5.6M240.5 431.6h5.6M248.1 413.9V435.3M245.3 413.9h5.6M245.3 435.3h5.6M252.8 413.3V435.1M250.0 413.3h5.6M250.0 435.1h5.6M257.5 415.8V438.0M254.7 415.8h5.6M254.7 438.0h5.6M262.3 415.6V438.2M259.5 415.6h5.6M259.5 438.2h5.6M267.0 419.9V442.1M264.2 419.9h5.6M264.2 442.1h5.6M271.8 420.1V441.9M269.0 420.1h5.6M269.0 441.9h5.6M276.5 419.6V441.2M273.7 419.6h5.6M273.7 441.2h5.6M281.3 419.4V440.6M278.5 419.4h5.6M278.5 440.6h5.6M286.0 422.0V442.8M283.2 422.0h5.6M283.2 442.8h5.6M290.8 422.2V442.6M287.9 422.2h5.6M287.9 442.6h5.6M295.5 425.8V446.0M292.7 425.8h5.6M292.7 446.0h5.6M300.2 430.3V450.1M297.4 430.3h5.6M297.4 450.1h5.6M304.9 431.5V450.9M302.1 431.5h5.6M302.1 450.9h5.6M309.7 428.7V447.7M306.9 428.7h5.6M306.9 447.7h5.6M314.5 429.6V448.0M311.7 429.6h5.6M311.7 448.0h5.6M319.2 430.2V448.2M316.4 430.2h5.6M316.4 448.2h5.6M323.9 434.9V452.5M321.1 434.9h5.6M321.1 452.5h5.6M328.7 434.6V451.6M325.9 434.6h5.6M325.9 451.6h5.6M333.4 438.7V455.3M330.6 438.7h5.6M330.6 455.3h5.6M338.2 437.9V454.1M335.4 437.9h5.6M335.4 454.1h5.6M342.9 439.6V455.2M340.1 439.6h5.6M340.1 455.2h5.6M347.6 441.7V456.9M344.8 441.7h5.6M344.8 456.9h5.6" stroke="#707070" stroke-width="0.7" fill="none"/>
<path d="M72.6 386.5V392.5M69.8 386.5h5.6M69.8 392.5h5.6M77.3 386.8V393.0M74.5 386.8h5.6M74.5 393.0h5.6M82.1 387.2V393.5M79.3 387.2h5.6M79.3 393.5h5.6M86.8 387.5V394.1M84.0 387.5h5.6M84.0 394.1h5.6M91.6 387.9V394.6M88.8 387.9h5.6M88.8 394.6h5.6M96.3 388.2V395.1M93.5 388.2h5.6M93.5 395.1h5.6M101.1 388.6V395.6M98.3 388.6h5.6M98.3 395.6h5.6M105.8 388.9V396.1M103.0 388.9h5.6M103.0 396.1h5.6M110.6 389.2V396.6M107.8 389.2h5.6M107.8 396.6h5.6M115.3 389.6V397.2M112.5 389.6h5.6M112.5 397.2h5.6M120.1 389.9V397.7M117.3 389.9h5.6M117.3 397.7h5.6M124.8 390.3V398.2M122.0 390.3h5.6M122.0 398.2h5.6M129.5 390.6V398.7M126.7 390.6h5.6M126.7 398.7h5.6M134.3 390.9V399.2M131.5 390.9h5.6M131.5 399.2h5.6M139.0 391.3V399.8M136.2 391.3h5.6M136.2 399.8h5.6M143.8 391.6V400.3M141.0 391.6h5.6M141.0 400.3h5.6M148.5 392.0V400.8M145.7 392.0h5.6M145.7 400.8h5.6M153.3 393.0V402.0M150.5 393.0h5.6M150.5 402.0h5.6M158.0 393.2V402.4M155.2 393.2h5.6M155.2 402.4h5.6M162.8 393.2V402.8M160.0 393.2h5.6M160.0 402.8h5.6M167.5 393.6V403.4M164.7 393.6h5.6M164.7 403.4h5.6M172.2 394.0V404.0M169.4 394.0h5.6M169.4 404.0h5.6M177.0 394.6V405.0M174.2 394.6h5.6M174.2 405.0h5.6M181.7 395.2V405.8M178.9 395.2h5.6M178.9 405.8h5.6M186.5 395.8V406.8M183.7 395.8h5.6M183.7 406.8h5.6M191.2 396.6V407.8M188.4 396.6h5.6M188.4 407.8h5.6M196.0 397.8V409.2M193.2 397.8h5.6M193.2 409.2h5.6M200.7 398.9V410.7M197.9 398.9h5.6M197.9 410.7h5.6M205.4 399.0V411.0M202.6 399.0h5.6M202.6 411.0h5.6M210.2 399.0V411.6M207.4 399.0h5.6M207.4 411.6h5.6M214.9 399.4V412.6M212.1 399.4h5.6M212.1 412.6h5.6M219.7 399.9V413.5M216.9 399.9h5.6M216.9 413.5h5.6M224.4 400.0V414.2M221.6 400.0h5.6M221.6 414.2h5.6M229.2 400.1V414.9M226.4 400.1h5.6M226.4 414.9h5.6M233.9 400.1V415.5M231.1 400.1h5.6M231.1 415.5h5.6M238.7 400.1V416.1M235.9 400.1h5.6M235.9 416.1h5.6M243.4 400.8V417.2M240.6 400.8h5.6M240.6 417.2h5.6M248.1 401.6V418.6M245.3 401.6h5.6M245.3 418.6h5.6M252.9 402.1V419.7M250.1 402.1h5.6M250.1 419.7h5.6M257.6 402.6V421.2M254.8 402.6h5.6M254.8 421.2h5.6M262.4 403.1V422.7M259.6 403.1h5.6M259.6 422.7h5.6M267.1 404.0V424.4M264.3 404.0h5.6M264.3 424.4h5.6M271.8 404.5V425.9M269.0 404.5h5.6M269.0 425.9h5.6M276.6 404.6V427.0M273.8 404.6h5.6M273.8 427.0h5.6M281.3 404.7V428.1M278.5 404.7h5.6M278.5 428.1h5.6M286.1 404.6V429.0M283.3 404.6h5.6M283.3 429.0h5.6M290.8 404.6V429.8M288.0 404.6h5.6M288.0 429.8h5.6M295.6 405.6V431.8M292.8 405.6h5.6M292.8 431.8h5.6M300.3 407.5V434.7M297.5 407.5h5.6M297.5 434.7h5.6M305.0 408.7V436.5M302.2 408.7h5.6M302.2 436.5h5.6M309.8 408.8V437.2M307.0 408.8h5.6M307.0 437.2h5.6M314.5 409.7V438.7M311.7 409.7h5.6M311.7 438.7h5.6M319.3 410.8V440.4M316.5 410.8h5.6M316.5 440.4h5.6M324.0 411.8V442.0M321.2 411.8h5.6M321.2 442.0h5.6M328.7 412.5V443.3M325.9 412.5h5.6M325.9 443.3h5.6M333.5 413.2V444.6M330.7 413.2h5.6M330.7 444.6h5.6M338.2 414.4V446.4M335.4 414.4h5.6M335.4 446.4h5.6M343.0 416.1V448.7M340.2 416.1h5.6M340.2 448.7h5.6M347.7 416.2V449.4M344.9 416.2h5.6M344.9 449.4h5.6" stroke="#707070" stroke-width="0.7" fill="none"/>
<path d="M72.6 385.6V399.6M69.5 385.6h6.2M69.5 399.6h6.2M77.4 379.7V395.7M74.3 379.7h6.2M74.3 395.7h6.2M82.1 379.7V397.7M79.0 379.7h6.2M79.0 397.7h6.2M86.9 376.7V396.7M83.8 376.7h6.2M83.8 396.7h6.2M91.6 367.4V399.4M88.5 367.4h6.2M88.5 399.4h6.2M96.4 372.8V394.8M93.3 372.8h6.2M93.3 394.8h6.2M101.1 372.3V392.3M98.0 372.3h6.2M98.0 392.3h6.2M105.9 369.9V387.9M102.8 369.9h6.2M102.8 387.9h6.2M110.6 359.4V395.4M107.5 359.4h6.2M107.5 395.4h6.2M115.4 360.1V384.1M112.3 360.1h6.2M112.3 384.1h6.2M120.1 366.4V386.4M117.0 366.4h6.2M117.0 386.4h6.2M124.9 349.3V380.5M121.8 349.3h6.2M121.8 380.5h6.2M129.7 352.7V381.9M126.6 352.7h6.2M126.6 381.9h6.2M134.4 355.5V372.3M131.3 355.5h6.2M131.3 372.3h6.2M139.2 356.0V370.0M136.1 356.0h6.2M136.1 370.0h6.2M144.0 334.5V363.7M140.9 334.5h6.2M140.9 363.7h6.2M148.7 336.2V372.2M145.6 336.2h6.2M145.6 372.2h6.2M153.5 322.7V376.7M150.4 322.7h6.2M150.4 376.7h6.2M158.3 324.1V366.9M155.2 324.1h6.2M155.2 366.9h6.2M163.0 324.5V369.5M159.9 324.5h6.2M159.9 369.5h6.2M167.7 332.1V368.9M164.6 332.1h6.2M164.6 368.9h6.2M172.6 320.3V351.1M169.5 320.3h6.2M169.5 351.1h6.2M177.3 306.7V354.3M174.2 306.7h6.2M174.2 354.3h6.2M182.1 306.3V356.5M179.0 306.3h6.2M179.0 356.5h6.2M186.8 306.3V357.7M183.7 306.3h6.2M183.7 357.7h6.2M191.6 296.2V349.8M188.5 296.2h6.2M188.5 349.8h6.2M196.3 309.6V355.4M193.2 309.6h6.2M193.2 355.4h6.2M201.1 300.9V350.3M198.0 300.9h6.2M198.0 350.3h6.2M205.8 309.5V350.3M202.7 309.5h6.2M202.7 350.3h6.2M210.6 299.9V356.9M207.5 299.9h6.2M207.5 356.9h6.2M215.3 313.2V351.8M212.2 313.2h6.2M212.2 351.8h6.2M220.1 284.3V347.7M217.0 284.3h6.2M217.0 347.7h6.2M224.9 284.3V357.1M221.8 284.3h6.2M221.8 357.1h6.2M229.6 289.6V369.4M226.5 289.6h6.2M226.5 369.4h6.2M234.3 290.6V364.0M231.2 290.6h6.2M231.2 364.0h6.2M239.0 310.6V364.2M235.9 310.6h6.2M235.9 364.2h6.2M243.8 304.6V347.4M240.7 304.6h6.2M240.7 347.4h6.2M248.6 289.2V331.2M245.5 289.2h6.2M245.5 331.2h6.2M253.4 279.1V336.5M250.3 279.1h6.2M250.3 336.5h6.2M258.1 294.5V346.9M255.0 294.5h6.2M255.0 346.9h6.2M262.9 290.2V327.6M259.8 290.2h6.2M259.8 327.6h6.2M267.6 281.2V332.2M264.5 281.2h6.2M264.5 332.2h6.2M272.4 275.7V335.7M269.3 275.7h6.2M269.3 335.7h6.2M277.1 293.5V342.3M274.0 293.5h6.2M274.0 342.3h6.2M281.8 304.6V340.6M278.7 304.6h6.2M278.7 340.6h6.2M286.6 281.2V352.0M283.5 281.2h6.2M283.5 352.0h6.2M291.3 281.3V362.7M288.2 281.3h6.2M288.2 362.7h6.2M296.1 274.2V352.2M293.0 274.2h6.2M293.0 352.2h6.2M300.9 258.5V337.9M297.8 258.5h6.2M297.8 337.9h6.2M305.7 245.2V348.2M302.6 245.2h6.2M302.6 348.2h6.2M310.3 274.2V354.8M307.2 274.2h6.2M307.2 354.8h6.2M315.1 275.3V348.1M312.0 275.3h6.2M312.0 348.1h6.2M319.8 274.1V344.9M316.7 274.1h6.2M316.7 344.9h6.2M324.6 270.3V326.5M321.5 270.3h6.2M321.5 326.5h6.2M329.4 265.0V340.4M326.3 265.0h6.2M326.3 340.4h6.2M334.1 282.1V327.5M331.0 282.1h6.2M331.0 327.5h6.2M338.9 257.4V342.4M335.8 257.4h6.2M335.8 342.4h6.2M343.6 267.0V343.4M340.5 267.0h6.2M340.5 343.4h6.2M348.4 273.1V335.3M345.3 273.1h6.2M345.3 335.3h6.2" stroke="#4a4a4a" stroke-width="0.6" fill="none"/>
<path d="M65.5 273V468.2" stroke="#666" stroke-width="1"/>
<path d="M65.5 468.2H351" stroke="#5c5c5c" stroke-width="1"/>
<text x="59.3" y="276.8" text-anchor="end" font-size="11.3" fill="#1c1c1c">180</text>
<text x="59.3" y="304.7" text-anchor="end" font-size="11.3" fill="#1c1c1c">160</text>
<text x="59.3" y="332.6" text-anchor="end" font-size="11.3" fill="#1c1c1c">140</text>
<text x="59.3" y="360.4" text-anchor="end" font-size="11.3" fill="#1c1c1c">120</text>
<text x="59.3" y="388.3" text-anchor="end" font-size="11.3" fill="#1c1c1c">100</text>
<text x="59.3" y="416.2" text-anchor="end" font-size="11.3" fill="#1c1c1c">80</text>
<text x="59.3" y="444.1" text-anchor="end" font-size="11.3" fill="#1c1c1c">60</text>
<text x="59.3" y="472.0" text-anchor="end" font-size="11.3" fill="#1c1c1c">40</text>
<text x="65.5" y="483.3" text-anchor="middle" font-size="11.3" fill="#1c1c1c">0</text>
<text x="113.1" y="483.3" text-anchor="middle" font-size="11.3" fill="#1c1c1c">5</text>
<text x="160.7" y="483.3" text-anchor="middle" font-size="11.3" fill="#1c1c1c">10</text>
<text x="208.2" y="483.3" text-anchor="middle" font-size="11.3" fill="#1c1c1c">15</text>
<text x="255.8" y="483.3" text-anchor="middle" font-size="11.3" fill="#1c1c1c">20</text>
<text x="303.4" y="483.3" text-anchor="middle" font-size="11.3" fill="#1c1c1c">25</text>
<text x="351.0" y="483.3" text-anchor="middle" font-size="11.3" fill="#1c1c1c">30</text>
<path d="M61.9 273.0H65.5M63.6 286.9H65.5M61.9 300.9H65.5M63.6 314.8H65.5M61.9 328.8H65.5M63.6 342.7H65.5M61.9 356.6H65.5M63.6 370.6H65.5M61.9 384.5H65.5M63.6 398.5H65.5M61.9 412.4H65.5M63.6 426.3H65.5M61.9 440.3H65.5M63.6 454.2H65.5M61.9 468.2H65.5M65.5 468.2v3.4M89.3 468.2v1.8M113.1 468.2v3.4M136.9 468.2v1.8M160.7 468.2v3.4M184.5 468.2v1.8M208.2 468.2v3.4M232.0 468.2v1.8M255.8 468.2v3.4M279.6 468.2v1.8M303.4 468.2v3.4M327.2 468.2v1.8M351.0 468.2v3.4" stroke="#484848" stroke-width="0.9" fill="none"/>
<text x="177.4" y="505.0" font-size="16.2" fill="#1c1c1c">Time (sec)</text>
<path d="M72.6 378.9l3.2 5.8h-6.4zM77.4 384.7l3.2 5.8h-6.4zM82.1 386.2l3.2 5.8h-6.4zM86.8 386.7l3.2 5.8h-6.4zM91.6 387.7l3.2 5.8h-6.4zM96.3 388.2l3.2 5.8h-6.4zM101.1 389.2l3.2 5.8h-6.4zM105.8 390.7l3.2 5.8h-6.4zM110.5 392.7l3.2 5.8h-6.4zM115.3 393.7l3.2 5.8h-6.4zM120.0 394.2l3.2 5.8h-6.4zM124.8 395.2l3.2 5.8h-6.4zM129.5 395.7l3.2 5.8h-6.4zM134.3 396.2l3.2 5.8h-6.4zM139.0 396.7l3.2 5.8h-6.4zM143.8 397.2l3.2 5.8h-6.4zM148.5 398.2l3.2 5.8h-6.4zM153.2 398.9l3.2 5.8h-6.4zM158.0 399.4l3.2 5.8h-6.4zM162.7 402.8l3.2 5.8h-6.4zM167.5 401.4l3.2 5.8h-6.4zM172.2 404.7l3.2 5.8h-6.4zM177.0 402.4l3.2 5.8h-6.4zM181.7 408.6l3.2 5.8h-6.4zM186.4 407.6l3.2 5.8h-6.4zM191.1 412.5l3.2 5.8h-6.4zM195.9 410.6l3.2 5.8h-6.4zM200.6 411.9l3.2 5.8h-6.4zM205.4 411.1l3.2 5.8h-6.4zM210.1 411.5l3.2 5.8h-6.4zM214.9 417.8l3.2 5.8h-6.4zM219.6 415.8l3.2 5.8h-6.4zM224.4 414.5l3.2 5.8h-6.4zM229.1 418.4l3.2 5.8h-6.4zM233.9 415.4l3.2 5.8h-6.4zM238.6 417.0l3.2 5.8h-6.4zM243.3 417.8l3.2 5.8h-6.4zM248.1 421.3l3.2 5.8h-6.4zM252.8 420.9l3.2 5.8h-6.4zM257.5 423.6l3.2 5.8h-6.4zM262.3 423.6l3.2 5.8h-6.4zM267.0 427.7l3.2 5.8h-6.4zM271.8 427.7l3.2 5.8h-6.4zM276.5 427.1l3.2 5.8h-6.4zM281.3 426.7l3.2 5.8h-6.4zM286.0 429.1l3.2 5.8h-6.4zM290.8 429.1l3.2 5.8h-6.4zM295.5 432.6l3.2 5.8h-6.4zM300.2 436.9l3.2 5.8h-6.4zM304.9 437.9l3.2 5.8h-6.4zM309.7 434.9l3.2 5.8h-6.4zM314.5 435.5l3.2 5.8h-6.4zM319.2 435.9l3.2 5.8h-6.4zM323.9 440.4l3.2 5.8h-6.4zM328.7 439.8l3.2 5.8h-6.4zM333.4 443.7l3.2 5.8h-6.4zM338.2 442.7l3.2 5.8h-6.4zM342.9 444.1l3.2 5.8h-6.4zM347.6 446.0l3.2 5.8h-6.4z" fill="#151515"/>
<circle cx="72.6" cy="389.5" r="3.2" fill="#151515"/>
<circle cx="77.3" cy="389.9" r="3.2" fill="#151515"/>
<circle cx="82.1" cy="390.4" r="3.2" fill="#151515"/>
<circle cx="86.8" cy="390.8" r="3.2" fill="#151515"/>
<circle cx="91.6" cy="391.2" r="3.2" fill="#151515"/>
<circle cx="96.3" cy="391.6" r="3.2" fill="#151515"/>
<circle cx="101.1" cy="392.1" r="3.2" fill="#151515"/>
<circle cx="105.8" cy="392.5" r="3.2" fill="#151515"/>
<circle cx="110.6" cy="392.9" r="3.2" fill="#151515"/>
<circle cx="115.3" cy="393.4" r="3.2" fill="#151515"/>
<circle cx="120.1" cy="393.8" r="3.2" fill="#151515"/>
<circle cx="124.8" cy="394.2" r="3.2" fill="#151515"/>
<circle cx="129.5" cy="394.7" r="3.2" fill="#151515"/>
<circle cx="134.3" cy="395.1" r="3.2" fill="#151515"/>
<circle cx="139.0" cy="395.5" r="3.2" fill="#151515"/>
<circle cx="143.8" cy="395.9" r="3.2" fill="#151515"/>
<circle cx="148.5" cy="396.4" r="3.2" fill="#151515"/>
<circle cx="153.3" cy="397.5" r="3.2" fill="#151515"/>
<circle cx="158.0" cy="397.8" r="3.2" fill="#151515"/>
<circle cx="162.8" cy="398.0" r="3.2" fill="#151515"/>
<circle cx="167.5" cy="398.5" r="3.2" fill="#151515"/>
<circle cx="172.2" cy="399.0" r="3.2" fill="#151515"/>
<circle cx="177.0" cy="399.8" r="3.2" fill="#151515"/>
<circle cx="181.7" cy="400.5" r="3.2" fill="#151515"/>
<circle cx="186.5" cy="401.3" r="3.2" fill="#151515"/>
<circle cx="191.2" cy="402.2" r="3.2" fill="#151515"/>
<circle cx="196.0" cy="403.5" r="3.2" fill="#151515"/>
<circle cx="200.7" cy="404.8" r="3.2" fill="#151515"/>
<circle cx="205.4" cy="405.0" r="3.2" fill="#151515"/>
<circle cx="210.2" cy="405.3" r="3.2" fill="#151515"/>
<circle cx="214.9" cy="406.0" r="3.2" fill="#151515"/>
<circle cx="219.7" cy="406.7" r="3.2" fill="#151515"/>
<circle cx="224.4" cy="407.1" r="3.2" fill="#151515"/>
<circle cx="229.2" cy="407.5" r="3.2" fill="#151515"/>
<circle cx="233.9" cy="407.8" r="3.2" fill="#151515"/>
<circle cx="238.7" cy="408.1" r="3.2" fill="#151515"/>
<circle cx="243.4" cy="409.0" r="3.2" fill="#151515"/>
<circle cx="248.1" cy="410.1" r="3.2" fill="#151515"/>
<circle cx="252.9" cy="410.9" r="3.2" fill="#151515"/>
<circle cx="257.6" cy="411.9" r="3.2" fill="#151515"/>
<circle cx="262.4" cy="412.9" r="3.2" fill="#151515"/>
<circle cx="267.1" cy="414.2" r="3.2" fill="#151515"/>
<circle cx="271.8" cy="415.2" r="3.2" fill="#151515"/>
<circle cx="276.6" cy="415.8" r="3.2" fill="#151515"/>
<circle cx="281.3" cy="416.4" r="3.2" fill="#151515"/>
<circle cx="286.1" cy="416.8" r="3.2" fill="#151515"/>
<circle cx="290.8" cy="417.2" r="3.2" fill="#151515"/>
<circle cx="295.6" cy="418.7" r="3.2" fill="#151515"/>
<circle cx="300.3" cy="421.1" r="3.2" fill="#151515"/>
<circle cx="305.0" cy="422.6" r="3.2" fill="#151515"/>
<circle cx="309.8" cy="423.0" r="3.2" fill="#151515"/>
<circle cx="314.5" cy="424.2" r="3.2" fill="#151515"/>
<circle cx="319.3" cy="425.6" r="3.2" fill="#151515"/>
<circle cx="324.0" cy="426.9" r="3.2" fill="#151515"/>
<circle cx="328.7" cy="427.9" r="3.2" fill="#151515"/>
<circle cx="333.5" cy="428.9" r="3.2" fill="#151515"/>
<circle cx="338.2" cy="430.4" r="3.2" fill="#151515"/>
<circle cx="343.0" cy="432.4" r="3.2" fill="#151515"/>
<circle cx="347.7" cy="432.8" r="3.2" fill="#151515"/>
<path d="M69.8 389.8h5.6v5.6h-5.6zM74.6 384.9h5.6v5.6h-5.6zM79.3 385.9h5.6v5.6h-5.6zM84.1 383.9h5.6v5.6h-5.6zM88.8 380.6h5.6v5.6h-5.6zM93.6 381.0h5.6v5.6h-5.6zM98.3 379.5h5.6v5.6h-5.6zM103.1 376.1h5.6v5.6h-5.6zM107.8 374.6h5.6v5.6h-5.6zM112.6 369.3h5.6v5.6h-5.6zM117.3 373.6h5.6v5.6h-5.6zM122.1 362.1h5.6v5.6h-5.6zM126.9 364.5h5.6v5.6h-5.6zM131.6 361.1h5.6v5.6h-5.6zM136.4 360.2h5.6v5.6h-5.6zM141.2 346.3h5.6v5.6h-5.6zM145.9 351.4h5.6v5.6h-5.6zM150.7 346.9h5.6v5.6h-5.6zM155.5 342.7h5.6v5.6h-5.6zM160.2 344.2h5.6v5.6h-5.6zM164.9 347.7h5.6v5.6h-5.6zM169.8 332.9h5.6v5.6h-5.6zM174.5 327.7h5.6v5.6h-5.6zM179.3 328.6h5.6v5.6h-5.6zM184.0 329.2h5.6v5.6h-5.6zM188.8 320.2h5.6v5.6h-5.6zM193.5 329.7h5.6v5.6h-5.6zM198.3 322.8h5.6v5.6h-5.6zM203.0 327.1h5.6v5.6h-5.6zM207.8 325.6h5.6v5.6h-5.6zM212.5 329.7h5.6v5.6h-5.6zM217.3 313.2h5.6v5.6h-5.6zM222.1 317.9h5.6v5.6h-5.6zM226.8 326.7h5.6v5.6h-5.6zM231.5 324.5h5.6v5.6h-5.6zM236.2 334.6h5.6v5.6h-5.6zM241.0 323.2h5.6v5.6h-5.6zM245.8 307.4h5.6v5.6h-5.6zM250.6 305.0h5.6v5.6h-5.6zM255.3 317.9h5.6v5.6h-5.6zM260.1 306.1h5.6v5.6h-5.6zM264.8 303.9h5.6v5.6h-5.6zM269.6 302.9h5.6v5.6h-5.6zM274.3 315.1h5.6v5.6h-5.6zM279.0 319.8h5.6v5.6h-5.6zM283.8 313.8h5.6v5.6h-5.6zM288.5 319.2h5.6v5.6h-5.6zM293.3 310.4h5.6v5.6h-5.6zM298.1 295.4h5.6v5.6h-5.6zM302.9 293.9h5.6v5.6h-5.6zM307.5 311.7h5.6v5.6h-5.6zM312.3 308.9h5.6v5.6h-5.6zM317.0 306.7h5.6v5.6h-5.6zM321.8 295.6h5.6v5.6h-5.6zM326.6 299.9h5.6v5.6h-5.6zM331.3 302.0h5.6v5.6h-5.6zM336.1 297.1h5.6v5.6h-5.6zM340.8 302.4h5.6v5.6h-5.6zM345.6 301.4h5.6v5.6h-5.6z" fill="#151515"/>
<path d="M75.8 269.5h5v5h-5z" fill="#151515"/>
<circle cx="78.2" cy="286.3" r="3" fill="#151515"/>
<path d="M78.1 296.2l3.6 6.5h-7.2z" fill="#151515"/>
<text x="95.5" y="276" font-size="10.5" fill="#1c1c1c">ARVmean +/-SD</text>
<text x="95.5" y="290.3" font-size="10.5" fill="#1c1c1c">CVmean +/-SD</text>
<text x="95.5" y="304" font-size="10.5" fill="#1c1c1c">MNFmean +/-SD</text>
</g>
<g transform="matrix(1 0 0.004 1 -1.480 0)">
<path d="M445.8 360.2V394.2M443.0 360.2h5.6M443.0 394.2h5.6M450.5 360.7V403.3M447.7 360.7h5.6M447.7 403.3h5.6M455.2 361.5V413.5M452.4 361.5h5.6M452.4 413.5h5.6M459.9 360.7V402.7M457.1 360.7h5.6M457.1 402.7h5.6M464.6 373.4V398.8M461.8 373.4h5.6M461.8 398.8h5.6M469.3 365.1V398.9M466.5 365.1h5.6M466.5 398.9h5.6M474.1 363.5V394.7M471.3 363.5h5.6M471.3 394.7h5.6M478.8 364.6V400.6M476.0 364.6h5.6M476.0 400.6h5.6M483.5 356.1V398.7M480.7 356.1h5.6M480.7 398.7h5.6M488.2 362.2V401.2M485.4 362.2h5.6M485.4 401.2h5.6M492.9 361.2V394.4M490.1 361.2h5.6M490.1 394.4h5.6M497.6 368.1V388.1M494.8 368.1h5.6M494.8 388.1h5.6M502.4 363.9V394.7M499.6 363.9h5.6M499.6 394.7h5.6M507.0 368.6V405.6M504.2 368.6h5.6M504.2 405.6h5.6M511.8 367.9V407.5M509.0 367.9h5.6M509.0 407.5h5.6M516.5 357.9V387.1M513.7 357.9h5.6M513.7 387.1h5.6M521.3 350.7V384.5M518.5 350.7h5.6M518.5 384.5h5.6M526.0 348.4V383.8M523.2 348.4h5.6M523.2 383.8h5.6M530.7 362.3V389.3M527.9 362.3h5.6M527.9 389.3h5.6M535.4 360.3V382.7M532.6 360.3h5.6M532.6 382.7h5.6M540.1 355.0V390.8M537.3 355.0h5.6M537.3 390.8h5.6M544.8 357.6V386.2M542.0 357.6h5.6M542.0 386.2h5.6M549.6 352.4V383.6M546.8 352.4h5.6M546.8 383.6h5.6M554.2 359.2V392.4M551.4 359.2h5.6M551.4 392.4h5.6M559.0 353.9V386.1M556.2 353.9h5.6M556.2 386.1h5.6M563.7 350.7V390.3M560.9 350.7h5.6M560.9 390.3h5.6M568.4 357.3V390.5M565.6 357.3h5.6M565.6 390.5h5.6M573.1 355.2V398.4M570.3 355.2h5.6M570.3 398.4h5.6M577.8 348.3V392.5M575.0 348.3h5.6M575.0 392.5h5.6M582.6 351.3V386.7M579.8 351.3h5.6M579.8 386.7h5.6M587.3 359.3V389.1M584.5 359.3h5.6M584.5 389.1h5.6M592.0 346.9V396.1M589.2 346.9h5.6M589.2 396.1h5.6M596.7 344.3V378.9M593.9 344.3h5.6M593.9 378.9h5.6M601.4 346.8V387.2M598.6 346.8h5.6M598.6 387.2h5.6M606.1 363.1V386.5M603.3 363.1h5.6M603.3 386.5h5.6M610.8 363.0V397.6M608.0 363.0h5.6M608.0 397.6h5.6M615.5 358.2V399.2M612.7 358.2h5.6M612.7 399.2h5.6M620.3 358.3V389.5M617.5 358.3h5.6M617.5 389.5h5.6M625.0 356.6V390.0M622.2 356.6h5.6M622.2 390.0h5.6M629.7 362.2V390.2M626.9 362.2h5.6M626.9 390.2h5.6M634.4 359.2V395.2M631.6 359.2h5.6M631.6 395.2h5.6M639.1 368.5V395.5M636.3 368.5h5.6M636.3 395.5h5.6M643.8 363.2V392.4M641.0 363.2h5.6M641.0 392.4h5.6M648.6 357.3V396.3M645.8 357.3h5.6M645.8 396.3h5.6M653.3 358.8V392.8M650.5 358.8h5.6M650.5 392.8h5.6M658.0 363.5V393.9M655.2 363.5h5.6M655.2 393.9h5.6M662.7 363.8V396.4M659.9 363.8h5.6M659.9 396.4h5.6M667.4 355.7V399.9M664.6 355.7h5.6M664.6 399.9h5.6M672.2 355.8V391.2M669.4 355.8h5.6M669.4 391.2h5.6M676.8 365.4V397.2M674.0 365.4h5.6M674.0 397.2h5.6M681.6 347.0V403.4M678.8 347.0h5.6M678.8 403.4h5.6M686.3 352.0V410.2M683.5 352.0h5.6M683.5 410.2h5.6M691.0 358.9V416.9M688.2 358.9h5.6M688.2 416.9h5.6M695.7 357.1V415.9M692.9 357.1h5.6M692.9 415.9h5.6M700.4 366.4V397.6M697.6 366.4h5.6M697.6 397.6h5.6M705.1 365.7V409.3M702.3 365.7h5.6M702.3 409.3h5.6M709.8 365.5V418.1M707.0 365.5h5.6M707.0 418.1h5.6M714.5 361.8V421.8M711.7 361.8h5.6M711.7 421.8h5.6M719.2 362.8V429.8M716.4 362.8h5.6M716.4 429.8h5.6" stroke="#686868" stroke-width="0.62" fill="none"/>
<path d="M439.2 272.5V467.3" stroke="#484848" stroke-width="1"/>
<path d="M439.2 467.3H721.8" stroke="#707070" stroke-width="1"/>
<text x="433.0" y="276.3" text-anchor="end" font-size="11.3" fill="#1c1c1c">120</text>
<text x="433.0" y="325.0" text-anchor="end" font-size="11.3" fill="#1c1c1c">110</text>
<text x="433.0" y="373.7" text-anchor="end" font-size="11.3" fill="#1c1c1c">100</text>
<text x="433.0" y="422.4" text-anchor="end" font-size="11.3" fill="#1c1c1c">90</text>
<text x="433.0" y="471.1" text-anchor="end" font-size="11.3" fill="#1c1c1c">80</text>
<text x="439.2" y="482.8" text-anchor="middle" font-size="11.3" fill="#1c1c1c">0</text>
<text x="486.3" y="482.8" text-anchor="middle" font-size="11.3" fill="#1c1c1c">5</text>
<text x="533.4" y="482.8" text-anchor="middle" font-size="11.3" fill="#1c1c1c">10</text>
<text x="580.5" y="482.8" text-anchor="middle" font-size="11.3" fill="#1c1c1c">15</text>
<text x="627.6" y="482.8" text-anchor="middle" font-size="11.3" fill="#1c1c1c">20</text>
<text x="674.7" y="482.8" text-anchor="middle" font-size="11.3" fill="#1c1c1c">25</text>
<text x="721.8" y="482.8" text-anchor="middle" font-size="11.3" fill="#1c1c1c">30</text>
<path d="M435.6 272.5H439.2M437.3 296.9H439.2M435.6 321.2H439.2M437.3 345.5H439.2M435.6 369.9H439.2M437.3 394.2H439.2M435.6 418.6H439.2M437.3 443.0H439.2M435.6 467.3H439.2M439.2 467.3v3.4M462.8 467.3v1.8M486.3 467.3v3.4M509.8 467.3v1.8M533.4 467.3v3.4M556.9 467.3v1.8M580.5 467.3v3.4M604.0 467.3v1.8M627.6 467.3v3.4M651.1 467.3v1.8M674.7 467.3v3.4M698.2 467.3v1.8M721.8 467.3v3.4" stroke="#484848" stroke-width="0.9" fill="none"/>
<text x="552.1" y="501.9" font-size="16.2" fill="#1c1c1c">Time (sec)</text>
<path d="M443.0 374.4h5.6v5.6h-5.6zM447.7 379.2h5.6v5.6h-5.6zM452.4 384.7h5.6v5.6h-5.6zM457.1 378.9h5.6v5.6h-5.6zM461.8 383.3h5.6v5.6h-5.6zM466.5 379.2h5.6v5.6h-5.6zM471.3 376.3h5.6v5.6h-5.6zM476.0 379.8h5.6v5.6h-5.6zM480.7 374.6h5.6v5.6h-5.6zM485.4 378.9h5.6v5.6h-5.6zM490.1 375.0h5.6v5.6h-5.6zM494.8 375.3h5.6v5.6h-5.6zM499.6 376.5h5.6v5.6h-5.6zM504.2 384.3h5.6v5.6h-5.6zM509.0 384.9h5.6v5.6h-5.6zM513.7 369.7h5.6v5.6h-5.6zM518.5 364.8h5.6v5.6h-5.6zM523.2 363.3h5.6v5.6h-5.6zM527.9 373.0h5.6v5.6h-5.6zM532.6 368.7h5.6v5.6h-5.6zM537.3 370.1h5.6v5.6h-5.6zM542.0 369.1h5.6v5.6h-5.6zM546.8 365.2h5.6v5.6h-5.6zM551.4 373.0h5.6v5.6h-5.6zM556.2 367.2h5.6v5.6h-5.6zM560.9 367.7h5.6v5.6h-5.6zM565.6 371.1h5.6v5.6h-5.6zM570.3 374.0h5.6v5.6h-5.6zM575.0 367.6h5.6v5.6h-5.6zM579.8 366.2h5.6v5.6h-5.6zM584.5 371.4h5.6v5.6h-5.6zM589.2 368.7h5.6v5.6h-5.6zM593.9 358.8h5.6v5.6h-5.6zM598.6 364.2h5.6v5.6h-5.6zM603.3 372.0h5.6v5.6h-5.6zM608.0 377.5h5.6v5.6h-5.6zM612.7 375.9h5.6v5.6h-5.6zM617.5 371.1h5.6v5.6h-5.6zM622.2 370.5h5.6v5.6h-5.6zM626.9 373.4h5.6v5.6h-5.6zM631.6 374.4h5.6v5.6h-5.6zM636.3 379.2h5.6v5.6h-5.6zM641.0 375.0h5.6v5.6h-5.6zM645.8 374.0h5.6v5.6h-5.6zM650.5 373.0h5.6v5.6h-5.6zM655.2 375.9h5.6v5.6h-5.6zM659.9 377.3h5.6v5.6h-5.6zM664.6 375.0h5.6v5.6h-5.6zM669.4 370.7h5.6v5.6h-5.6zM674.0 378.5h5.6v5.6h-5.6zM678.8 372.4h5.6v5.6h-5.6zM683.5 378.3h5.6v5.6h-5.6zM688.2 385.1h5.6v5.6h-5.6zM692.9 383.7h5.6v5.6h-5.6zM697.6 379.2h5.6v5.6h-5.6zM702.3 384.7h5.6v5.6h-5.6zM707.0 389.0h5.6v5.6h-5.6zM711.7 389.0h5.6v5.6h-5.6zM716.4 393.5h5.6v5.6h-5.6z" fill="#151515"/>
<path d="M568.6 279.7h5.6v5.6h-5.6z" fill="#151515"/>
<text x="590.4" y="286.7" font-size="12" fill="#1c1c1c">TRQ(70%)MVC +/- SD</text>
<path d="M456.5 446l1-2.5" stroke="#999" stroke-width="0.8"/>
</g>
<text transform="translate(27.5 114) rotate(-90)" text-anchor="middle" font-size="12.1" fill="#1c1c1c">Normalized values w.r.t. initial values</text>
<text transform="translate(406.8 102) rotate(-90)" text-anchor="middle" font-size="12.1" fill="#1c1c1c">Normalized values w.r.t. initial values</text>
<text transform="translate(30 361.2) rotate(-90)" text-anchor="middle" font-size="12.1" fill="#1c1c1c">Normalized values w.r.t. initial values</text>
<text transform="translate(409.5 360) rotate(-90)" text-anchor="middle" font-size="12.1" fill="#1c1c1c">Normalized values w.r.t. initial values</text>
</g>
</svg>
</body></html>
